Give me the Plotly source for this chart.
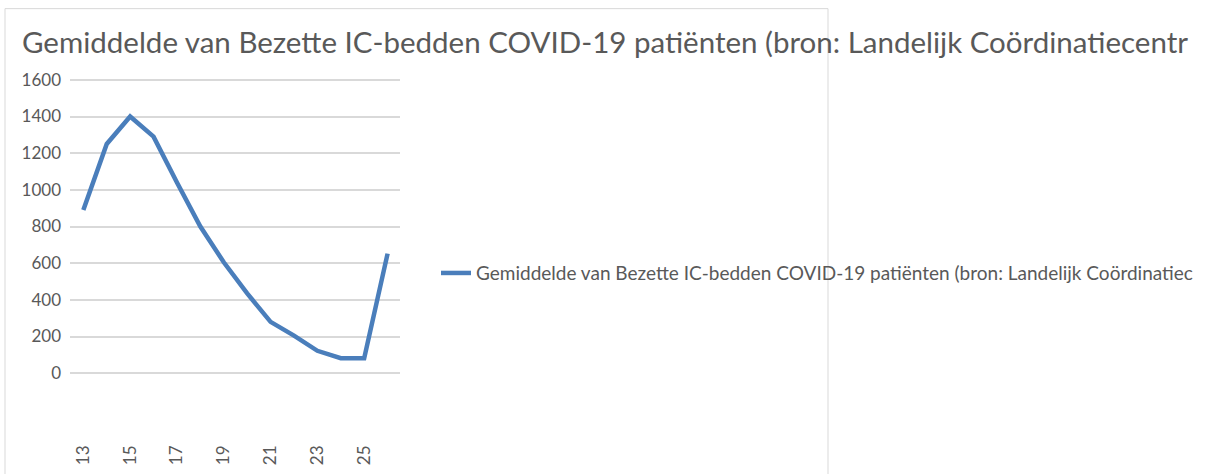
import plotly.graph_objects as go

weeks = [13, 14, 15, 16, 17, 18, 19, 20, 21, 22, 23, 24, 25, 26]
values = [890, 1250, 1400, 1290, 1040, 800, 605, 435, 280, 205, 122, 82, 82, 652]
x_ticks = [13, 15, 17, 19, 21, 23, 25]
y_ticks = [0, 200, 400, 600, 800, 1000, 1200, 1400, 1600]
title_text = "Gemiddelde van Bezette IC-bedden COVID-19 patiënten (bron: Landelijk Coördinatiecentr"
series_name = "Gemiddelde van Bezette IC-bedden COVID-19 patiënten (bron: Landelijk Coördinatiec"

W, H = 1208, 474
L, R = 70, 400
T, B = 77.5, 375.1

def px_x(p):
    return (p - L) / (R - L)

def px_y(p):
    return (B - p) / (B - T)

fig = go.Figure()
fig.add_trace(go.Scatter(
    x=weeks, y=values, mode="lines", name=series_name,
    line=dict(color="#4a7ebb", width=4.5),
    showlegend=True,
))

fig.update_layout(
    width=W, height=H,
    margin=dict(l=L, r=W - R, t=T, b=H - B, pad=0, autoexpand=False),
    paper_bgcolor="white", plot_bgcolor="white",
    font=dict(family="Lato", color="#595959"),
    title=dict(text=title_text, x=22 / W, xanchor="left", xref="container",
               y=1 - 32 / H, yanchor="top", yref="container",
               font=dict(size=29.5, color="#595959", family="Lato")),
    showlegend=True,
    legend=dict(x=px_x(436), xanchor="left", y=px_y(273), yanchor="middle",
                font=dict(size=19, color="#595959", family="Lato"),
                bgcolor="rgba(0,0,0,0)", borderwidth=0),
    xaxis=dict(range=[12.43, 26.53], tickvals=x_ticks, ticktext=[str(v) for v in x_ticks],
               tickangle=-90, showgrid=False, zeroline=False, showline=False, automargin=False,
               ticks="", ticklabelstandoff=66, tickfont=dict(size=17, color="#595959")),
    yaxis=dict(range=[-10, 1610], tickvals=y_ticks, showgrid=True, gridcolor="#d9d9d9",
               gridwidth=1.5, zeroline=False, showline=False, ticks="", automargin=False,
               ticklabelstandoff=8, tickfont=dict(size=17, color="#595959")),
    shapes=[dict(type="rect", xref="paper", yref="paper",
                 x0=px_x(5), x1=px_x(828), y0=px_y(490), y1=px_y(8),
                 line=dict(color="#d9d9d9", width=1), fillcolor="rgba(0,0,0,0)", layer="below")],
)

fig.write_html("out.html", config={"displayModeBar": False},
               post_script="document.body.style.margin='0';")
